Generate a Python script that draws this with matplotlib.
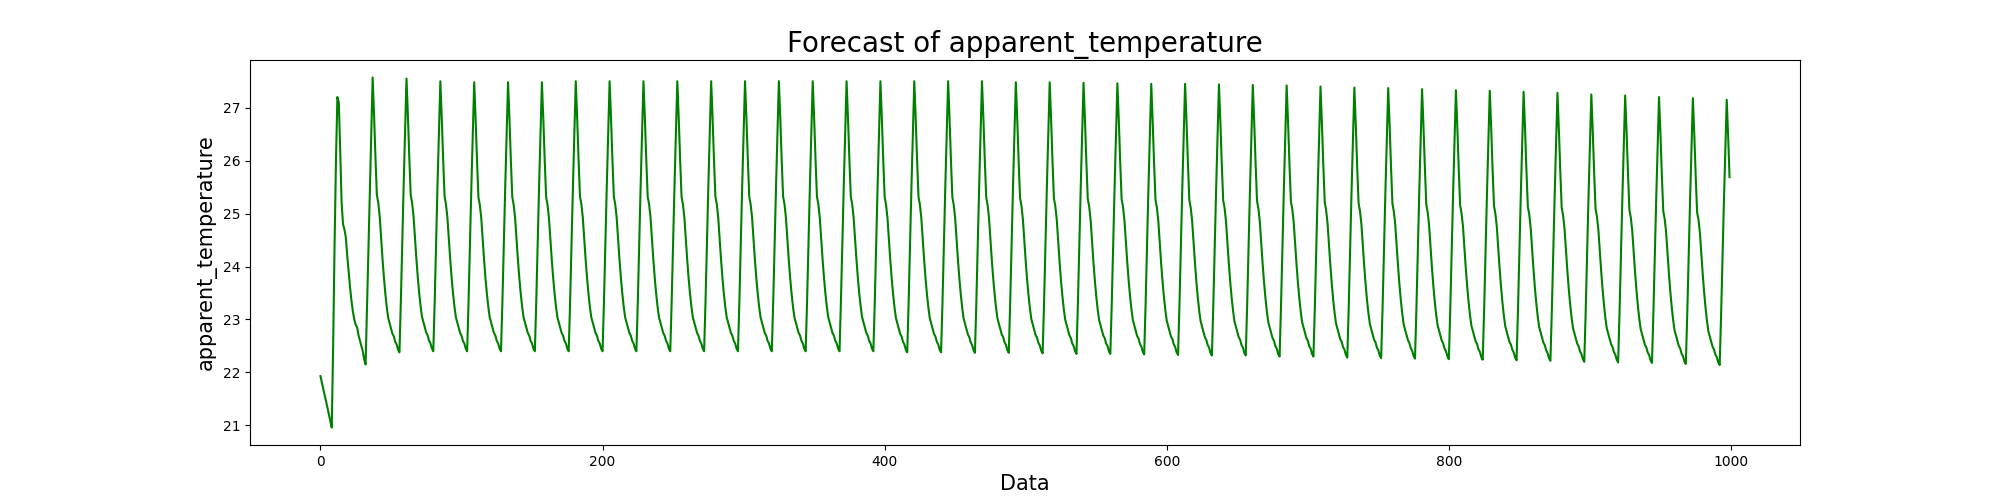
import numpy as np
import matplotlib
matplotlib.use("Agg")
import matplotlib.pyplot as plt

# opening stretch of the forecast (index 0..36)
start_values = [21.93, 21.81, 21.69, 21.57, 21.45, 21.33, 21.20, 21.08, 20.96,
                22.50, 24.40, 26.00, 27.20, 27.10, 26.20, 25.20, 24.80, 24.70,
                24.55, 24.20, 23.90, 23.60, 23.35, 23.15, 23.00, 22.90, 22.85,
                22.70, 22.60, 22.50, 22.40, 22.25, 22.15, 23.20, 24.30, 25.40, 26.50]

# shape of one daily cycle, starting at the peak (24 steps), read at peak 27.5 / trough 22.35
cycle_shape = [27.50, 26.80, 26.00, 25.30, 25.15, 24.90, 24.50, 24.10, 23.75, 23.45,
               23.20, 23.00, 22.90, 22.80, 22.70, 22.65, 22.55, 22.50, 22.40, 22.35,
               23.30, 24.40, 25.50, 26.50]

cycle_peaks = [27.57, 27.55, 27.50, 27.48, 27.48, 27.48, 27.50, 27.50, 27.50, 27.50,
               27.50, 27.50, 27.50, 27.50, 27.50, 27.50, 27.50, 27.50, 27.50, 27.48,
               27.48, 27.47, 27.46, 27.45, 27.45, 27.44, 27.43, 27.42, 27.40, 27.38,
               27.37, 27.35, 27.33, 27.32, 27.30, 27.28, 27.25, 27.23, 27.20, 27.18, 27.15]
cycle_troughs = [22.38, 22.40, 22.40, 22.40, 22.40, 22.40, 22.40, 22.40, 22.40, 22.40,
                 22.40, 22.40, 22.40, 22.40, 22.40, 22.38, 22.38, 22.37, 22.37, 22.36,
                 22.35, 22.35, 22.34, 22.33, 22.32, 22.32, 22.30, 22.30, 22.28, 22.27,
                 22.26, 22.25, 22.24, 22.23, 22.22, 22.20, 22.19, 22.18, 22.16, 22.14, 22.13]

n_points = 1000

# scale the cycle shape to each cycle's peak/trough
shape = np.array(cycle_shape)
frac = (shape - 22.35) / (27.50 - 22.35)
values = list(start_values)
for pk, tr in zip(cycle_peaks, cycle_troughs):
    values.extend(tr + frac * (pk - tr))
values = np.array(values[:n_points])
x = np.arange(len(values))

plt.figure(figsize=(20, 5))
plt.plot(x, values, color="green")
plt.title("Forecast of apparent_temperature", fontsize=20)
plt.xlabel("Data", fontsize=15)
plt.ylabel("apparent_temperature", fontsize=15)
plt.savefig("out.png", dpi=100)
plt.close()
